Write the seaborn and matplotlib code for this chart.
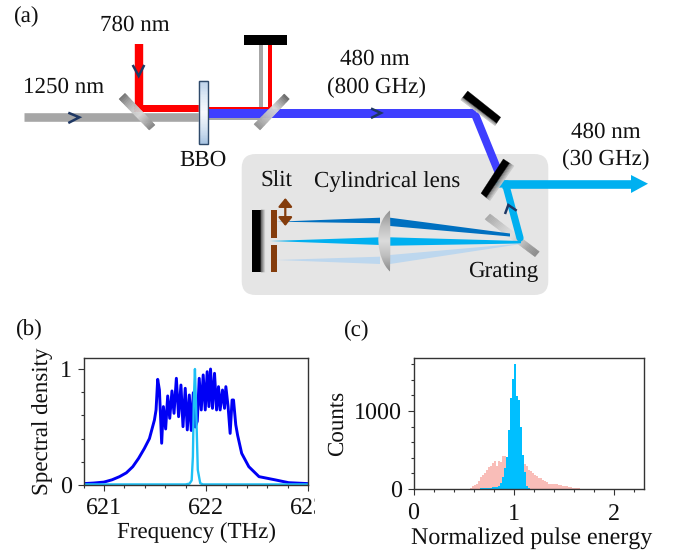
import numpy as np
import matplotlib
matplotlib.use("Agg")
import matplotlib.pyplot as plt
import seaborn as sns
from matplotlib.patches import Polygon, Rectangle, FancyBboxPatch, PathPatch, FancyArrowPatch
from matplotlib.path import Path
from matplotlib.ticker import MultipleLocator
from matplotlib.transforms import Bbox
from matplotlib.colors import LinearSegmentedColormap

# ---- panel (b): spectra
freq_broad = [620.80, 620.90, 621.00, 621.08, 621.153, 621.22, 621.283, 621.34, 621.397, 621.446, 621.495,
              621.511, 621.527, 621.544, 621.566, 621.583, 621.605, 621.625, 621.645, 621.667, 621.687,
              621.710, 621.732, 621.755, 621.775, 621.797, 621.817, 621.837, 621.856, 621.876, 621.895,
              621.915, 621.934, 621.954, 621.973, 621.993, 622.012, 622.029, 622.045, 622.064, 622.084,
              622.104, 622.123, 622.139, 622.162, 622.182, 622.195, 622.217, 622.237, 622.256, 622.270,
              622.292, 622.31, 622.35, 622.42, 622.52, 622.68, 622.81, 623.00]
dens_broad = [0.012, 0.017, 0.025, 0.045, 0.072, 0.105, 0.158, 0.23, 0.316, 0.40, 0.56,
              0.647, 0.911, 0.819, 0.360, 0.676, 0.483, 0.768, 0.575, 0.811, 0.618,
              0.920, 0.589, 0.862, 0.503, 0.834, 0.475, 0.776, 0.470, 0.796, 0.50,
              0.55, 0.920, 0.647, 0.949, 0.647, 0.977, 0.676, 1.000, 0.661, 0.963,
              0.647, 0.848, 0.647, 0.819, 0.661, 0.848, 0.676, 0.445, 0.733, 0.733,
              0.52, 0.43, 0.273, 0.158, 0.072, 0.044, 0.020, 0.012]
freq_narrow = [620.80, 621.50, 621.80, 621.84, 621.86, 621.872, 621.881, 621.892, 621.904, 621.92, 621.944, 621.97, 622.3, 623.00]
dens_narrow = [0.005, 0.005, 0.005, 0.012, 0.04, 0.245, 0.73, 1.0, 0.65, 0.13, 0.015, 0.005, 0.005, 0.005]

# ---- panel (c): histograms (bin left edges, counts)
bin_broad = [0.54, 0.56, 0.58, 0.60, 0.62, 0.64, 0.66, 0.68, 0.70, 0.72, 0.74, 0.76, 0.78, 0.80, 0.82, 0.84, 0.86,
             0.88, 0.90, 0.92, 0.94, 0.96, 0.98, 1.00, 1.02, 1.04, 1.06, 1.08, 1.10, 1.12, 1.14, 1.16, 1.18, 1.20,
             1.22, 1.24, 1.26, 1.28, 1.30, 1.32, 1.34, 1.36, 1.38, 1.40, 1.42, 1.44, 1.46, 1.48, 1.50, 1.52, 1.54,
             1.56, 1.58, 1.60, 1.62, 1.64, 1.66, 1.68, 1.70]
cnt_broad = [5, 15, 40, 50, 65, 100, 150, 180, 200, 240, 280, 300, 330, 355, 300, 360, 350,
             425, 420, 395, 380, 400, 400, 390, 380, 370, 350, 340, 320, 295, 250, 225, 210, 185,
             170, 145, 135, 115, 100, 90, 70, 60, 65, 70, 60, 52, 48, 40, 38, 35, 25,
             20, 15, 14, 10, 8, 6, 5, 4]
bin_narrow = [0.64, 0.66, 0.68, 0.70, 0.72, 0.74, 0.76, 0.78, 0.80, 0.82, 0.84, 0.86, 0.88, 0.90, 0.92, 0.94, 0.96,
              0.98, 1.00, 1.02, 1.04, 1.06, 1.08, 1.10, 1.12, 1.14, 1.16]
cnt_narrow = [5, 8, 10, 12, 14, 14, 18, 22, 26, 30, 40, 75, 158, 265, 415, 756, 1162,
              1406, 1600, 1197, 1140, 799, 436, 222, 40, 15, 6]

# ---- ticks
FREQ_TICKS = [621, 622, 623]
ENERGY_TICKS = [0, 1, 2]

sns.set_theme(style="ticks")
plt.rcParams["font.family"] = ["Liberation Serif"]
plt.rcParams["axes.unicode_minus"] = False
plt.rcParams["text.hinting"] = "no_hinting"
plt.rcParams["text.hinting_factor"] = 1
FS = 16.5
FS_AXIS = 16.9
FS_TICK = 17.2
INK = "#111111"
W, H = 675, 552
fig = plt.figure(figsize=(W / 100, H / 100), dpi=100, facecolor="white")

d = fig.add_axes([0, 0, 1, 1], zorder=0)
d.set_axis_off()


def poly(pts, color, z=2, **kw):
    d.add_patch(Polygon(pts, closed=True, facecolor=color, edgecolor="none", zorder=z, **kw))


def beam(p0, p1, width, color, z=2):
    d.plot([p0[0], p1[0]], [p0[1], p1[1]], color=color, lw=width * 0.72, solid_capstyle="butt", zorder=z)


def rect(x0, y0, x1, y1, color, z=2, ec="none", lw=0):
    d.add_patch(Rectangle((x0, y0), x1 - x0, y1 - y0, facecolor=color, edgecolor=ec, linewidth=lw, zorder=z))


def grad_quad(a, b, c, e, stops, z=3, n=40):
    """Gradient runs from edge a-b to edge e-c."""
    a, b, c, e = map(np.array, (a, b, c, e))
    cm = LinearSegmentedColormap.from_list("g", stops)
    for i in range(n):
        t0, t1 = i / n, (i + 1) / n
        pts = [a + (e - a) * t0, b + (c - b) * t0, b + (c - b) * t1, a + (e - a) * t1]
        d.add_patch(Polygon(pts, closed=True, facecolor=cm((t0 + t1) / 2),
                            edgecolor=cm((t0 + t1) / 2), lw=0.3, zorder=z))


def chevron(pts, lw=1.8):
    xs, ys = zip(*pts)
    d.plot(xs, ys, color="#1f3864", lw=lw, solid_joinstyle="miter", solid_capstyle="butt", zorder=8)


RED, GREY, BLUE, CYAN = "#ff0000", "#a6a6a6", "#3f3fff", "#00b0f0"
DBLUE, LBLUE, BROWN = "#0070c0", "#bdd7ee", "#843c0c"

# grey box
d.add_patch(FancyBboxPatch((255.7, 168), 278.6, 113, boxstyle="round,pad=14,rounding_size=14",
                           facecolor="#e5e5e5", edgecolor="none", zorder=1))

# input beams
beam((24, 116.7), (200, 116.7), 8.6, GREY)
rect(208, 112, 262, 119.6, GREY)
beam((138.5, 44), (138.5, 112.3), 8.4, RED)
rect(134.3, 104.7, 199.5, 112.3, RED)
rect(208, 106.7, 272, 109.2, RED)
rect(267.7, 44, 272, 109, RED)
rect(259, 44, 263.3, 107, GREY)
rect(244, 35, 287, 44.5, "black", z=4)
rect(208, 109, 475, 117.5, BLUE)

# first mirrors
grad_quad((119, 99), (125, 93.3), (155, 125), (149.3, 130),
          ["#6f6f6f", "#a0a0a0", "#c4c4c4", "#d8d8d8", "#b0b0b0", "#808080"])
grad_quad((284.3, 94), (289.3, 99), (260, 130), (254, 124.3),
          ["#5f5f5f", "#a0a0a0", "#d8d8d8", "#c8c8c8", "#b0b0b0", "#8f8f8f"])

# BBO
grad_quad((199.3, 81.3), (208.3, 81.3), (208.3, 144), (199.3, 144),
          ["#bcd2ea", "#dfeaf6", "#f7fafd", "#d8e5f3", "#a9c4e2"], z=4)
rect(199.3, 81.3, 208.3, 144, "none", z=5, ec="#2f4a6a", lw=1.0)

# delivery
beam((474.5, 113), (498.5, 172), 8, BLUE)
d.plot([470, 475.5], [113, 113], color=BLUE, lw=6, solid_capstyle="butt", zorder=2)
beam((501.5, 184), (632, 184), 8.6, CYAN)
poly([(631, 175), (648, 183.7), (631, 193)], CYAN)

# grating
grad_quad((490, 214), (485, 219.3), (535, 256.7), (539.3, 251.7),
          ["#a8a8a8", "#bcbcbc", "#d2d2d2", "#e0e0e0", "#c8c8c8", "#a0a0a0", "#8a8a8a"], z=2)

# reflected beam over the grating
d.plot([499, 505.5, 520], [184, 184, 238], color=CYAN, lw=5.2, solid_joinstyle="miter", zorder=4)

top_a, top_b, top_c, top_e = (467.7, 91), (460.7, 100), (495, 125.7), (500.7, 117.3)
low_a, low_b, low_c, low_e = (503.3, 159), (514, 166), (490, 200.7), (481, 193.3)


def backed_mirror(a, b, c, e, black_part, face_stops, z=5, n=6):
    """Solid black backing from long edge a-e to black_part of the width, then a silver face up to b-c."""
    a, b, c, e = map(np.array, (a, b, c, e))
    m0, m1 = a + (b - a) * black_part, e + (c - e) * black_part
    cm = LinearSegmentedColormap.from_list("g", face_stops)
    for i in range(n):
        t0, t1 = i / n, (i + 1) / n
        pts = [m0 + (b - m0) * t0, m0 + (b - m0) * t1, m1 + (c - m1) * t1, m1 + (c - m1) * t0]
        col = cm((t0 + t1) / 2)
        d.add_patch(Polygon(pts, closed=True, facecolor=col, edgecolor=col, lw=0.2, zorder=z))
    d.add_patch(Polygon([a, m0, m1, e], closed=True, facecolor="black", edgecolor="black", lw=0.2, zorder=z + 0.1))


backed_mirror(top_a, top_b, top_c, top_e, 0.70, ["#666666", "#d0d0d0"])
backed_mirror(low_a, low_b, low_c, low_e, 0.58, ["#666666", "#cfcfcf"])

# dispersed beams
poly([(276.7, 221.7), (380, 217.7), (380, 223.3)], DBLUE, z=3)
poly([(390, 217.7), (510, 233.5), (510, 236.5), (390, 226)], DBLUE, z=3)
poly([(270, 241), (380, 237.3), (380, 245)], CYAN, z=3)
poly([(390, 237.3), (521, 241), (521, 243.5), (390, 245.7)], CYAN, z=3)
poly([(276.7, 260), (380, 256.7), (380, 264)], LBLUE, z=3)
poly([(390, 255), (521, 243.5), (521, 244), (390, 264)], LBLUE, z=3)

# cylindrical lens
lens_path = Path([(390, 210.5), (372, 225), (377, 260), (390, 271.5), (390.5, 250), (390.5, 230), (390, 210.5)],
                 [Path.MOVETO, Path.CURVE4, Path.CURVE4, Path.CURVE4, Path.CURVE4, Path.CURVE4, Path.CURVE4])
lens_patch = PathPatch(lens_path, facecolor="none", edgecolor="none", zorder=4)
d.add_patch(lens_patch)
lens_cm = LinearSegmentedColormap.from_list("l", ["#8f8f8f", "#bdbdbd", "#dcdcdc", "#bdbdbd", "#8a8a8a"])
lens_img = d.imshow(np.linspace(0, 1, 64)[:, None], extent=(370, 392, 272, 210), aspect="auto",
                    cmap=lens_cm, zorder=4, interpolation="bilinear")
lens_img.set_clip_path(lens_patch)

# slit assembly
rect(252.3, 210, 261, 272.3, "black", z=4)
grad_quad((261, 210), (261, 272.3), (265.7, 272.3), (265.7, 210), ["#555555", "#e8e8e8"], z=4, n=12)
rect(271, 210, 277, 237.7, BROWN, z=5)
rect(271, 245, 277, 272.3, BROWN, z=5)
d.add_patch(FancyArrowPatch((285.3, 198), (285.3, 226), arrowstyle="<|-|>,head_length=3.2,head_width=2.6",
                            color=BROWN, lw=1.6, mutation_scale=1.6, shrinkA=0, shrinkB=0, zorder=6))

# direction marks
chevron([(68.3, 112.7), (79.3, 117.3), (68.3, 123)])
chevron([(132.7, 65), (138.7, 76), (144.3, 65)])
chevron([(371, 108.5), (381, 113), (371, 118)])
chevron([(505, 214), (508.3, 205), (516.7, 210.7)])

labels = [("(a)", 27, 17), ("780 nm", 135, 25), ("1250 nm", 63.5, 87), ("BBO", 203, 160),
          ("480 nm", 375, 59), ("(800 GHz)", 376, 88), ("480 nm", 605.7, 132), ("(30 GHz)", 606, 160),
          ("Slit", 276.7, 181.7), ("Cylindrical lens", 387, 181.7), ("Grating", 502.7, 272),
          ("(b)", 29, 330), ("(c)", 357, 330.7)]
for s, x, y in labels:
    d.text(x, y, s, ha="center", va="center", fontsize=FS, color=INK, zorder=9)
d.set_xlim(0, W)
d.set_ylim(H, 0)


def panel(l, r, t, b):
    ax = fig.add_axes([l / W, 1 - b / H, (r - l) / W, (b - t) / H], zorder=2, facecolor="none")
    for s in ax.spines.values():
        s.set_color("#333333")
        s.set_linewidth(1.0)
    ax.tick_params(which="major", length=4, width=0.8, color="#333333", labelsize=FS_TICK, labelcolor=INK, pad=4)
    ax.tick_params(which="minor", length=2.5, width=0.8, color="#333333")
    return ax


# panel (b)
axb = panel(83.5, 308, 358, 485)
sns.lineplot(x=freq_broad, y=dens_broad, color="#0000f5", lw=2.1, sort=False, errorbar=None, ax=axb)
sns.lineplot(x=freq_narrow, y=dens_narrow, color="#1ec0f5", lw=1.7, sort=False, errorbar=None, ax=axb)
axb.set_xlim(620.8, 623.0)
axb.set_ylim(0, 1.095)
axb.set_xticks(FREQ_TICKS)
axb.set_yticks([0, 1])
axb.xaxis.set_minor_locator(MultipleLocator(0.2))
axb.yaxis.set_minor_locator(MultipleLocator(0.2))
axb.tick_params(axis="x", pad=5.5)
axb.set_xlabel("Frequency (THz)", fontsize=FS_AXIS, color=INK, va="center", ha="center")
axb.set_ylabel("Spectral density", fontsize=FS_AXIS, color=INK, va="center", ha="center")
axb.xaxis.set_label_coords(196.7, 532.7, transform=d.transData)
axb.yaxis.set_label_coords(43, 421.7, transform=d.transData)

# panel (c)
axc = panel(413.5, 644.3, 358, 489)
edges_b = [round(bin_broad[0] + 0.02 * k, 2) for k in range(len(bin_broad) + 1)]
edges_n = [round(bin_narrow[0] + 0.02 * k, 2) for k in range(len(bin_narrow) + 1)]
sns.histplot(x=[v + 0.01 for v in bin_broad], weights=cnt_broad, bins=edges_b, element="step",
             color="#f9bdb8", alpha=1, linewidth=0, ax=axc)
sns.histplot(x=[v + 0.01 for v in bin_narrow], weights=cnt_narrow, bins=edges_n, element="step",
             color="#00bfff", alpha=1, linewidth=0, ax=axc)
axc.set_xlim(0, 2.3)
axc.set_ylim(0, 1680)
axc.set_xticks(ENERGY_TICKS)
axc.set_yticks([0, 1000])
axc.xaxis.set_minor_locator(MultipleLocator(0.2))
axc.yaxis.set_minor_locator(MultipleLocator(200))
axc.tick_params(axis="x", pad=6.5)
axc.set_xlabel("Normalized pulse energy", fontsize=17.2, color=INK, va="center", ha="center")
axc.set_ylabel("Counts", fontsize=FS_AXIS, color=INK, va="center", ha="center")
axc.xaxis.set_label_coords(532, 538, transform=d.transData)
axc.yaxis.set_label_coords(337, 423, transform=d.transData)

# the last frequency tick label is cut off in the reference
fig.canvas.draw()
for lab in axb.get_xticklabels():
    lab.set_clip_on(True)
    lab.set_clip_box(Bbox([[0, 0], [315, H]]))

fig.savefig("out.png", dpi=100, facecolor="white")
